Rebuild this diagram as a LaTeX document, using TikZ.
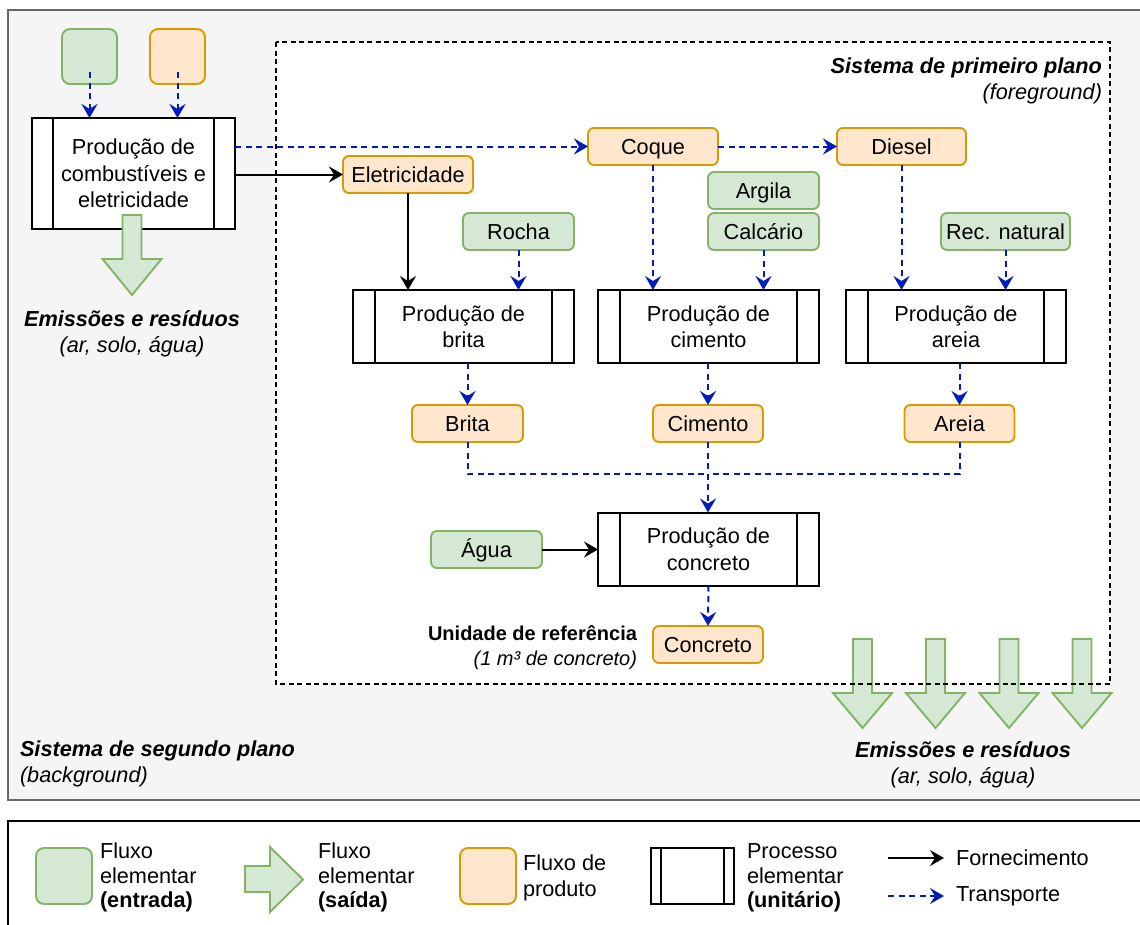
\documentclass[tikz,border=0pt]{standalone}
\usepackage{fontspec}
\setmainfont{Liberation Sans}
\usetikzlibrary{arrows.meta,calc}

\definecolor{bgfill}{HTML}{F5F5F5}
\definecolor{bgline}{HTML}{666666}
\definecolor{greenfill}{HTML}{D5E8D4}
\definecolor{greenline}{HTML}{82B366}
\definecolor{orangefill}{HTML}{FFE6CC}
\definecolor{orangeline}{HTML}{D79B00}
\definecolor{flowblue}{HTML}{001DBC}

\newcommand\diagfont{\fontsize{21.7}{26.5}\selectfont}
\newcommand\reffont{\fontsize{20}{25}\selectfont}
% side bars of a unit-process box
\newcommand\procbars[2]{%
  \draw[line width=2pt] ([xshift=#2]#1.north west) -- ([xshift=#2]#1.south west)
    ([xshift=-#2]#1.north east) -- ([xshift=-#2]#1.south east);}
% downward block arrow for emissions: centre x, top, start of head, tip
\newcommand\emisarrow[4]{%
  \draw[emis] (#1-9.5,#2) -- (#1+9.5,#2) -- (#1+9.5,#3) -- (#1+29.5,#3)
    -- (#1,#4) -- (#1-29.5,#3) -- (#1-9.5,#3) -- cycle;}

\begin{document}
\begin{tikzpicture}[x=1pt,y=-1pt,
  every node/.style={font=\diagfont, inner sep=0pt, outer sep=0pt},
  flowbox/.style={rounded corners=6pt, line width=1.9pt, minimum height=37pt,
    text height=15.5pt, text depth=0pt},
  elem/.style={flowbox, draw=greenline, fill=greenfill},
  prod/.style={flowbox, draw=orangeline, fill=orangefill},
  proc/.style={draw=black, fill=white, line width=2pt, minimum width=221pt,
    minimum height=73pt, align=center},
  tip/.style={-{Stealth[length=14pt,width=16pt,inset=5pt]}},
  supply/.style={draw=black, line width=2pt, tip},
  transport/.style={draw=flowblue, line width=2pt, dash pattern=on 6pt off 4.5pt, tip},
  emis/.style={draw=greenline, fill=greenfill, line width=1.9pt},
  bi/.style={font=\diagfont\bfseries\itshape},
  it/.style={font=\diagfont\itshape},
  bd/.style={font=\diagfont\bfseries},
]
\useasboundingbox (0,0) rectangle (1140,924);
\clip (0,0) rectangle (1140,924);
\fill[white] (0,0) rectangle (1140,924);

% background system
\draw[draw=bgline, fill=bgfill, line width=2pt] (8,10) rectangle (1170,800);
% foreground system
\fill[white] (276,42) rectangle (1110,684);

% foreground title
\node[bi, anchor=base east] (fgtitle) at (1102,73) {Sistema de primeiro plano};
\node[it, anchor=base east] (fgsub) at (1102,99) {(foreground)};

% background title
\node[bi, anchor=base west] (bgtitle) at (20,756) {Sistema de segundo plano};
\node[it, anchor=base west] (bgsub) at (20,782) {(background)};

% inputs to the background process
\node[elem, minimum width=55pt, minimum height=55pt, rounded corners=8pt] (inel) at (89.5,56.5) {};
\node[prod, minimum width=55pt, minimum height=55pt, rounded corners=8pt] (inpr) at (177.5,56.5) {};

% background process
\node[proc, minimum width=203pt, minimum height=111pt] (comb) at (133.5,173.5)
  {Produção de\\combustíveis e\\eletricidade};
\procbars{comb}{21pt}

% flows
\node[prod, minimum width=130pt] (elec) at (408,174.5) {Eletricidade};
\node[prod, minimum width=130pt] (coque) at (653,146.5) {Coque};
\node[prod, minimum width=129pt] (diesel) at (901.5,146.5) {Diesel};
\node[elem, minimum width=111pt] (argila) at (763.5,190.5) {Argila};
\node[elem, minimum width=111pt] (calc) at (763.5,231.5) {Calcário};
\node[elem, minimum width=111pt] (rocha) at (518.5,231.5) {Rocha};
\node[elem, minimum width=129pt] (recnat) at (1005.5,231.5) {Rec. natural};

% foreground processes
\node[proc] (pbrita) at (463.5,326.5) {Produção de\\brita};
\procbars{pbrita}{22pt}
\node[proc] (pcim) at (708.5,326.5) {Produção de\\cimento};
\procbars{pcim}{22pt}
\node[proc, minimum width=220pt] (pareia) at (956,326.5) {Produção de\\areia};
\procbars{pareia}{22pt}

\node[prod, minimum width=111pt] (brita) at (467.5,423.5) {Brita};
\node[prod, minimum width=110pt] (cimento) at (708,423.5) {Cimento};
\node[prod, minimum width=110pt] (areia) at (959.5,423.5) {Areia};

\node[proc] (pconc) at (708.5,549) {Produção de\\concreto};
\procbars{pconc}{22pt}
\node[elem, minimum width=111pt] (agua) at (486.5,549.5) {Água};
\node[prod, minimum width=110pt] (concreto) at (708,644.5) {Concreto};

\node[font=\reffont\bfseries, anchor=base east] (refunit) at (637,640) {Unidade de referência};
\node[font=\reffont\itshape, anchor=base east] (refsub) at (637,665) {(1 m³ de concreto)};

% connectors
\draw[transport] ([yshift=-15.5pt]inel.center) -- (inel.center |- comb.north);
\draw[transport] ([yshift=-15.5pt]inpr.center) -- (inpr.center |- comb.north);
\draw[transport] (comb.east |- coque.west) -- (coque.west);
\draw[supply] (comb.east |- elec.west) -- (elec.west);
\draw[transport] (coque.east) -- (diesel.west);
\draw[supply] (elec.south) -- (elec.south |- pbrita.north);
\draw[transport] (rocha.south) -- (rocha.south |- pbrita.north);
\draw[transport] (coque.south) -- (coque.south |- pcim.north);
\draw[transport] (calc.south) -- (calc.south |- pcim.north);
\draw[transport] (diesel.south) -- (diesel.south |- pareia.north);
\draw[transport] (recnat.south) -- (recnat.south |- pareia.north);
\draw[transport] (brita.north |- pbrita.south) -- (brita.north);
\draw[transport] (cimento.north |- pcim.south) -- (cimento.north);
\draw[transport] (areia.north |- pareia.south) -- (areia.north);
\coordinate (mix) at (708,474);
\draw[transport, -] (brita.south) |- (mix);
\draw[transport, -] (areia.south) |- (mix);
\draw[transport] (cimento.south) -- (cimento.south |- pconc.north);
\draw[supply] (agua.east) -- (agua.east -| pconc.west);
\draw[transport] (pconc.south) -- (concreto.north);

% emissions
\emisarrow{132}{215}{259}{295}
\node[bi, anchor=base] (emisl) at (132,326) {Emissões e resíduos};
\node[it, anchor=base] (emisls) at (132,352) {(ar, solo, água)};

\emisarrow{862.5}{639}{693}{728}
\emisarrow{935.5}{639}{693}{728}
\emisarrow{1009}{639}{693}{728}
\emisarrow{1082}{639}{693}{728}
\node[bi, anchor=base] (emisr) at (963,757) {Emissões e resíduos};
\node[it, anchor=base] (emisrs) at (963,783) {(ar, solo, água)};

% foreground boundary
\draw[line width=1.8pt, dash pattern=on 5pt off 3.5pt] (276,42) rectangle (1110,684);

% legend
\draw[line width=2pt, fill=white] (8,821) rectangle (1170,960);
\node[elem, minimum width=56pt, minimum height=56pt, rounded corners=8pt] (lgin) at (64,876) {};
\node[anchor=base west] (lgin1) at (100,858) {Fluxo};
\node[anchor=base west] (lgin2) at (100,883) {elementar};
\node[bd, anchor=base west] (lgin3) at (100,907) {(entrada)};

\draw[emis] (245,866) -- (270,866) -- (270,847) -- (303,879.5) -- (270,912) -- (270,892) -- (245,892) -- cycle;
\node[anchor=base west] (lgout1) at (318,858) {Fluxo};
\node[anchor=base west] (lgout2) at (318,883) {elementar};
\node[bd, anchor=base west] (lgout3) at (318,907) {(saída)};

\node[prod, minimum width=56pt, minimum height=56pt, rounded corners=8pt] (lgprod) at (488,876) {};
\node[anchor=base west] (lgprod1) at (523,870) {Fluxo de};
\node[anchor=base west] (lgprod2) at (523,896) {produto};

\node[draw, line width=2pt, minimum width=83pt, minimum height=56pt] (lgproc) at (692.5,876) {};
\procbars{lgproc}{10pt}
\node[anchor=base west] (lgproc1) at (747,858) {Processo};
\node[anchor=base west] (lgproc2) at (747,883) {elementar};
\node[bd, anchor=base west] (lgproc3) at (747,907) {(unitário)};

\coordinate (lgsa) at (888,858);
\coordinate (lgsb) at (944,858);
\draw[supply] (lgsa) -- (lgsb);
\node[anchor=base west] (lgsup) at (956,865) {Fornecimento};
\coordinate (lgta) at (888,896);
\coordinate (lgtb) at (944,896);
\draw[transport] (lgta) -- (lgtb);
\node[anchor=base west] (lgtra) at (956,901) {Transporte};
\end{tikzpicture}
\end{document}
